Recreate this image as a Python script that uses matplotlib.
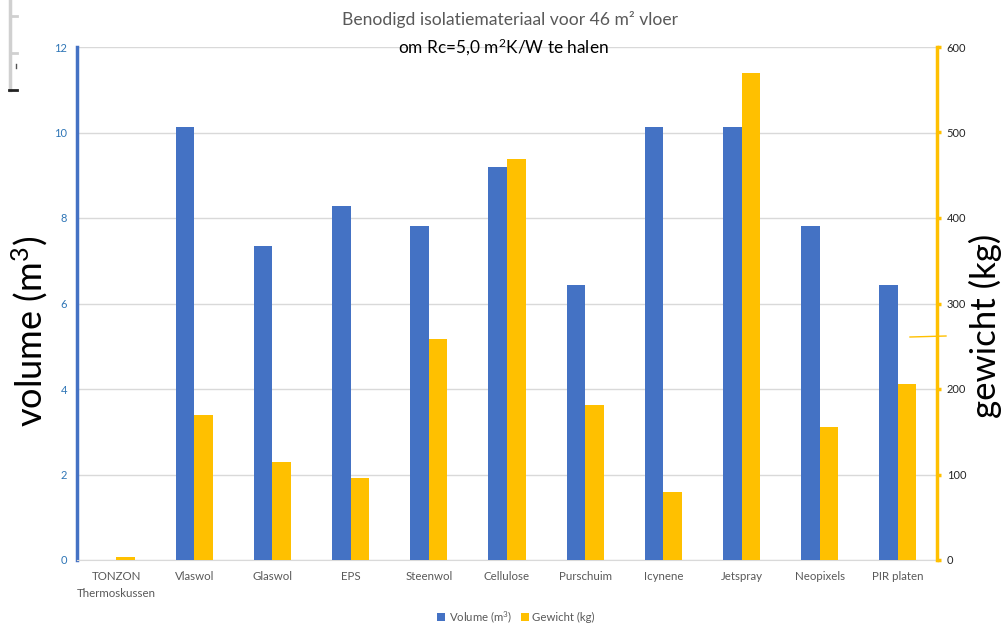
import matplotlib.pyplot as plt
from matplotlib.lines import Line2D
import numpy as np

plt.rcParams['font.family'] = ['Lato', 'DejaVu Sans']
plt.rcParams['mathtext.default'] = 'regular'

# data
materials = ['TONZON\nThermoskussen', 'Vlaswol', 'Glaswol', 'EPS', 'Steenwol',
             'Cellulose', 'Purschuim', 'Icynene', 'Jetspray', 'Neopixels', 'PIR platen']
volume_m3 = [0, 10.12, 7.35, 8.28, 7.82, 9.2, 6.43, 10.12, 10.12, 7.82, 6.43]
weight_kg = [3, 170, 115, 96, 258, 469, 181, 80, 570, 156, 206]

blue = '#4472C4'
orange = '#FFC000'
grid_col = '#D9D9D9'

W, H = 1003, 623
fig = plt.figure(figsize=(W/100, H/100), dpi=100)
ax = fig.add_axes([77/W, 1-560/H, (937-77)/W, (560-47)/H])
ax2 = ax.twinx()

x = np.arange(len(materials))
w = 0.237
ax.bar(x - w/2, volume_m3, w, color=blue, label='Volume (m$^3$)', zorder=3)
ax2.bar(x + w/2, weight_kg, w, color=orange, label='Gewicht (kg)', zorder=3)

ax.set_xlim(-0.5, len(materials) - 0.5)
ax.set_ylim(0, 12)
ax2.set_ylim(0, 600)
ax.set_yticks(range(0, 13, 2))
ax2.set_yticks(range(0, 601, 100))
ax.yaxis.grid(True, color=grid_col, linewidth=1, zorder=0)
ax.set_axisbelow(True)

for s in ['top', 'right']:
    ax.spines[s].set_visible(False)
for s in ['top', 'left']:
    ax2.spines[s].set_visible(False)
ax.spines['left'].set_color(blue)
ax.spines['left'].set_linewidth(2.5)
ax.spines['bottom'].set_color(grid_col)
ax2.spines['bottom'].set_visible(False)
ax2.spines['right'].set_color(orange)
ax2.spines['right'].set_linewidth(2.5)

ax.set_xticks(x)
ax.set_xticklabels(materials, fontsize=8.3, color='#595959', linespacing=1.6)
ax.tick_params(axis='x', length=0, pad=8)
ax.tick_params(axis='y', length=0, labelsize=8, labelcolor='#2E75B6', pad=7)
ax2.tick_params(axis='y', length=3, width=2.5, color=orange, labelsize=8, labelcolor='#262626', pad=4)

# axis titles placed by hand, like the reference
fig.text(30/W, 1-331/H, 'volume (m$^3$)', rotation=90, ha='center', va='center', fontsize=26)
fig.text(985/W, 1-326/H, 'gewicht (kg)', rotation=90, ha='center', va='center', fontsize=25)

fig.text(510/W, 1-20/H, 'Benodigd isolatiemateriaal voor 46 m² vloer',
         ha='center', va='center', fontsize=12.6, color='#595959')
fig.text(503/W, 1-47/H, 'om Rc=5,0 m$^2$K/W te halen',
         ha='center', va='center', fontsize=12.4, color='black')

h1, l1 = ax.get_legend_handles_labels()
h2, l2 = ax2.get_legend_handles_labels()
fig.legend(h1 + h2, l1 + l2, loc='center', bbox_to_anchor=(516/W, 1-617/H),
           ncol=2, frameon=False, fontsize=8.2, handlelength=0.7, handleheight=0.7,
           columnspacing=0.8, handletextpad=0.3, labelcolor='#595959')

# stray marks at the top left and the scribble on the right axis
marks = [((10, 10), (0, 90), '#D0D0D0', 2.5),
         ((10, 17), (16, 16), '#D0D0D0', 2),
         ((10, 17), (53, 53), '#D0D0D0', 2),
         ((9, 17), (90, 90), '#222222', 2),
         ((16, 16), (64, 68), '#555555', 1),
         ((910, 946), (337, 336), orange, 1)]
for xs, ys, c, lw in marks:
    fig.add_artist(Line2D([v/W for v in xs], [1-v/H for v in ys], color=c, linewidth=lw))

fig.savefig('out.png', dpi=100)
